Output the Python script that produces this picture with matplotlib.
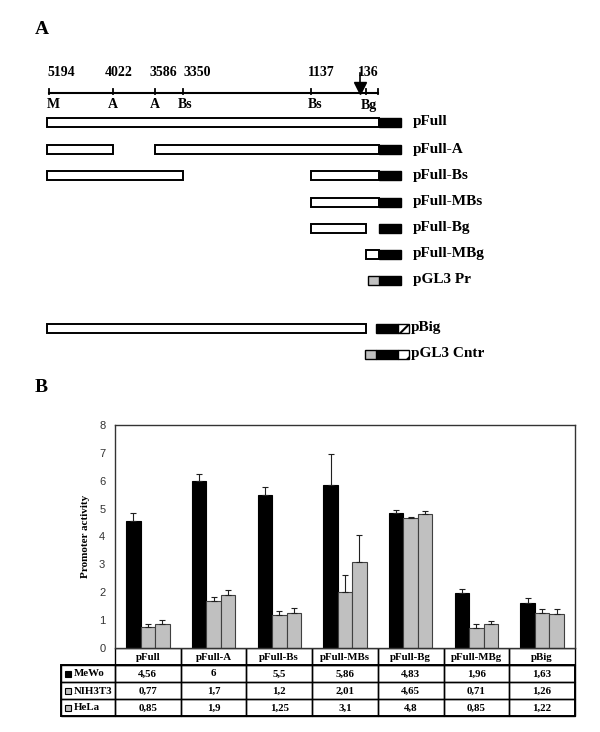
import matplotlib

matplotlib.use("Agg")

import matplotlib.pyplot as plt
from matplotlib.patches import Rectangle
import numpy as np

plt.rcParams["font.family"] = "serif"
plt.rcParams["font.serif"] = ["Liberation Serif", "DejaVu Serif"]
plt.rcParams["hatch.linewidth"] = 1.5

# ---- panel A: promoter map, positions in bp upstream ----
site_bp = [5194, 4022, 3586, 3350, 1137, 340, 136]
site_names = ["M", "A", "A", "Bs", "Bs", "Bg", ""]
site_numbers = ["5194", "4022", "3586", "3350", "1137", "", "136"]
tss_bp = 430

construct_names = ["pFull", "pFull-A", "pFull-Bs", "pFull-MBs", "pFull-Bg",
                   "pFull-MBg", "pGL3 Pr", "pBig", "pGL3 Cntr"]
construct_segments = [
    [(5194, 136)],
    [(5194, 4022), (3586, 136)],
    [(5194, 3350), (1137, 136)],
    [(1137, 136)],
    [(1137, 340)],
    [(340, 136)],
    [],
    [(5194, 340)],
    [],
]
construct_sv40 = [False, False, False, False, False, False, True, False, True]
construct_enhancer = [False, False, False, False, False, False, False, True, True]

# ---- panel B: promoter activity ----
groups = ["pFull", "pFull-A", "pFull-Bs", "pFull-MBs", "pFull-Bg", "pFull-MBg", "pBig"]
cells = ["MeWo", "NIH3T3", "HeLa"]
mewo = [4.56, 6, 5.5, 5.86, 4.83, 1.96, 1.63]
nih3t3 = [0.77, 1.7, 1.2, 2.01, 4.65, 0.71, 1.26]
hela = [0.85, 1.9, 1.25, 3.1, 4.8, 0.85, 1.22]
mewo_err = [0.29, 0.26, 0.28, 1.1, 0.12, 0.16, 0.17]
nih3t3_err = [0.1, 0.13, 0.13, 0.62, 0.06, 0.15, 0.14]
hela_err = [0.14, 0.17, 0.2, 0.95, 0.12, 0.13, 0.17]

W, H = 600, 732
fig = plt.figure(figsize=(W / 100, H / 100), dpi=100)

# overlay in pixel coordinates for the map and the table
ax0 = fig.add_axes([0, 0, 1, 1])
ax0.set_xlim(0, W)
ax0.set_ylim(H, 0)
ax0.axis("off")

# schematic (not to scale) placement of the map sites
site_px = [49, 113, 155, 183, 311, 366, 378]
# label nudges, the original figure places them by hand
num_dx = [-2, -8, -5, 1, -3, 0, -20]
name_dx = [-2, 0, 0, -5, -3, -5, 0]


def bp_x(bp):
    return np.interp(-bp, -np.array(site_bp), site_px)


bold = dict(fontweight="bold")
fig.text(35 / W, 1 - 30 / H, "A", fontsize=14, va="center", ha="left", **bold)
fig.text(35 / W, 1 - 387 / H, "B", fontsize=14, va="center", ha="left", **bold)

line_y = 93
ax0.plot([bp_x(site_bp[0]), bp_x(site_bp[-1])], [line_y, line_y], color="black", lw=1.5)
for bp, name, num, ndx, mdx in zip(site_bp, site_names, site_numbers, num_dx, name_dx):
    x = bp_x(bp)
    ax0.plot([x, x], [line_y - 4.5, line_y + 1], color="black", lw=1.3)
    if num:
        ax0.text(x + ndx, 73, num, fontsize=10, ha="left", va="center", **bold)
    if name:
        ax0.text(x + mdx, 105, name, fontsize=10,
                 ha="center" if name == "A" else "left", va="center", **bold)
# transcription start arrow
tx = bp_x(tss_bp)
ax0.plot([tx, tx], [73, 86], color="black", lw=1.2)
ax0.plot(tx, 88, marker="v", ms=9, color="black")

row_y = [122, 149, 175, 202, 228, 254, 280, 328, 354]
box_h = 9
luc_w = 22
small_w = 11
for name, segs, sv40, enh, y in zip(construct_names, construct_segments,
                                    construct_sv40, construct_enhancer, row_y):
    for a, b in segs:
        x0 = bp_x(a) - (2 if a == 5194 else 0)
        x1 = bp_x(b) + (1 if b == 136 else 0)
        ax0.add_patch(Rectangle((x0, y - box_h / 2), x1 - x0, box_h,
                                facecolor="white", edgecolor="black", lw=1.4))
    luc_x = bp_x(136) + (1 if not enh else -2)
    ax0.add_patch(Rectangle((luc_x, y - box_h / 2), luc_w, box_h,
                            facecolor="black", edgecolor="black", lw=1))
    if sv40:
        ax0.add_patch(Rectangle((luc_x - small_w, y - box_h / 2), small_w, box_h,
                                facecolor="#c0c0c0", edgecolor="black", lw=1))
    label_x = luc_x + luc_w + 12
    if enh:
        ax0.add_patch(Rectangle((luc_x + luc_w, y - box_h / 2), small_w, box_h,
                                facecolor="white", edgecolor="black", lw=1,
                                hatch="/"))
        label_x = luc_x + luc_w + small_w + 2
    ax0.text(label_x, y, name, fontsize=11, ha="left", va="center", **bold)

# ---- bar chart ----
ax_l, ax_r, ax_top, ax_bot = 115, 575, 425, 648
ax = fig.add_axes([ax_l / W, 1 - ax_bot / H, (ax_r - ax_l) / W, (ax_bot - ax_top) / H])
x = np.arange(len(groups))
bw = 0.22
series = [mewo, nih3t3, hela]
errors = [mewo_err, nih3t3_err, hela_err]
colors = ["black", "#c0c0c0", "#c0c0c0"]
edges = ["black", "#404040", "#404040"]
for k, (vals, errs, c, e) in enumerate(zip(series, errors, colors, edges)):
    xs = x + (k - 1) * bw
    ax.bar(xs, vals, width=bw, color=c, edgecolor=e, lw=0.8, zorder=2)
    ax.errorbar(xs, vals, yerr=[np.zeros(len(vals)), errs], fmt="none",
                ecolor="#202020", elinewidth=0.8, capsize=2, capthick=0.8, zorder=3)
ax.set_xlim(-0.5, len(groups) - 0.5)
ax.set_ylim(0, 8)
ax.set_yticks(range(0, 9))
ax.set_xticks([])
ax.tick_params(axis="y", length=0, pad=7, labelsize=8, labelcolor="#333333")
for lab in ax.get_yticklabels():
    lab.set_family("Liberation Sans")
for sp in ax.spines.values():
    sp.set_color("#333333")
    sp.set_linewidth(1)
ax.set_ylabel("Promoter activity", fontsize=8, **bold)
ax.yaxis.set_label_coords(-0.055, 0.5)

# ---- data table under the bars ----
col_w = (ax_r - ax_l) / len(groups)
row_edges = [648, 665, 682, 699, 716]
lab_l = 61
tkw = dict(fontsize=7.8, ha="center", va="center", **bold)
for i, g in enumerate(groups):
    cx = ax_l + i * col_w
    ax0.add_patch(Rectangle((cx, row_edges[0]), col_w, row_edges[1] - row_edges[0],
                            fill=False, edgecolor="black", lw=1))
    ax0.text(cx + col_w / 2, (row_edges[0] + row_edges[1]) / 2 + 0.5, g, **tkw)
for r, (name, vals, c) in enumerate(zip(cells, series, colors)):
    y0, y1 = row_edges[r + 1], row_edges[r + 2]
    ym = (y0 + y1) / 2
    ax0.add_patch(Rectangle((lab_l, y0), ax_l - lab_l, y1 - y0,
                            fill=False, edgecolor="black", lw=1))
    ax0.add_patch(Rectangle((lab_l + 4, ym - 3), 6, 6, facecolor=c,
                            edgecolor="black", lw=0.8))
    ax0.text(lab_l + 13, ym + 0.5, name, fontsize=7.8, ha="left", va="center", **bold)
    for i, v in enumerate(vals):
        cx = ax_l + i * col_w
        ax0.add_patch(Rectangle((cx, y0), col_w, y1 - y0,
                                fill=False, edgecolor="black", lw=1))
        ax0.text(cx + col_w / 2, ym + 0.5, str(v).replace(".", ","), **tkw)
ax0.add_patch(Rectangle((lab_l, row_edges[1]), ax_r - lab_l, row_edges[-1] - row_edges[1],
                        fill=False, edgecolor="black", lw=1.4))

fig.savefig("out.png", dpi=100)
